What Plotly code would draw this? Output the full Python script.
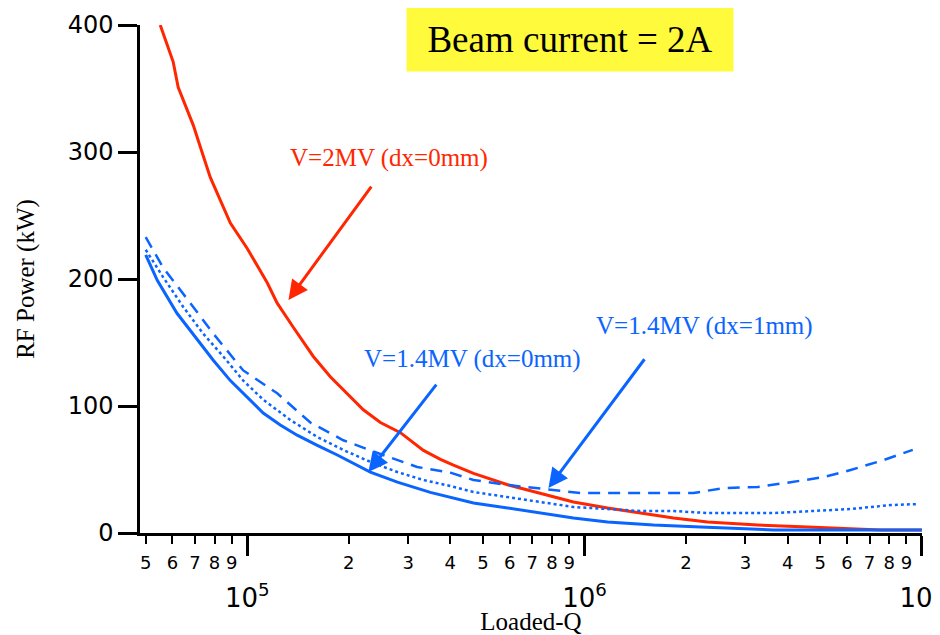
import numpy as np
import plotly.graph_objects as go

# ---- data ----
q_red = [55200, 60300, 62400, 69200, 72600, 77700, 89100, 100000, 114600, 122700, 136900,
         157000, 176300, 198000, 220900, 248200, 284500, 332900, 373900, 408600, 468600,
         591300, 740000, 927000, 1170000, 1466000, 1836000, 2316000, 3260000, 4589000,
         7557000, 10000000]
p_red = [400, 371, 351, 321, 304, 280, 244, 224, 197, 181, 162,
         139, 123, 110, 97, 87, 79, 65, 58, 53.5, 47,
         38, 31.5, 24.4, 19.7, 15.7, 11.8, 8.7, 6.3, 4.7,
         2.4, 2.4]

q_solid = [50000, 54100, 61900, 71100, 79300, 89100, 100000, 111500, 125300, 140600, 161300,
           184900, 231700, 278700, 349000, 400300, 468600, 591300, 740000, 927000, 1170000,
           1602000, 2208000, 3639000, 10000000]
p_solid = [219, 199, 173, 152, 136, 120, 107, 94.5, 85, 77, 69,
           61.4, 48, 40, 32, 28, 23.6, 19.7, 15.7, 11.8, 8.7,
           6.3, 4.7, 2.4, 2.4]

q_dot = [50000, 56300, 64600, 74000, 84900, 97300, 111500, 134200, 161300, 192600, 231700,
         278700, 332900, 400300, 468600, 591300, 740000, 927000, 1170000, 1466000, 1836000,
         2316000, 3639000, 4589000, 6150000, 8090000, 9800000]
p_dot = [223, 201.5, 178, 157, 139, 120, 105, 89, 75.6, 65.4, 56,
         48, 41.7, 37, 32.3, 28.3, 24.4, 20.5, 18.9, 17.3, 17.3,
         15.7, 15.7, 17.3, 18.9, 22, 22.8]

q_dash = [50000, 56300, 67800, 79300, 97300, 122700, 153800, 192600, 243400, 319000, 400300,
          468600, 591300, 792900, 973000, 1466000, 2104000, 2582000, 3260000, 4083000, 5118000,
          6150000, 7713000, 9400000]
p_dash = [233, 209, 181, 157, 128, 110, 87, 73, 63, 52, 47.5,
          41.7, 37.8, 33.9, 31.5, 31.5, 31.5, 35.4, 36.2, 40, 44,
          49.6, 57.5, 65.4]

major_ticks = [1e5, 1e6, 1e7]
major_text = ["10<sup>5</sup>", "10<sup>6</sup>", "10<sup>7</sup>"]
minor_ticks = [5e4, 6e4, 7e4, 8e4, 9e4] + [d * 1e5 for d in range(2, 10)] + [d * 1e6 for d in range(2, 10)]
minor_text = ["5", "6", "7", "8", "9"] + [str(d) for d in range(2, 10)] + [str(d) for d in range(2, 10)]
y_ticks = [0, 100, 200, 300, 400]

RED = "#FF2600"
BLUE = "#0A64FF"
SERIF = "Liberation Serif"
SANS = "DejaVu Sans"

xrange_log = [4.682, 7.0005]

fig = go.Figure()
fig.add_trace(go.Scatter(x=q_red, y=p_red, mode="lines", line=dict(color=RED, width=3), showlegend=False))
fig.add_trace(go.Scatter(x=q_dash, y=p_dash, mode="lines", line=dict(color=BLUE, width=2.5, dash="12px,8px"), showlegend=False))
fig.add_trace(go.Scatter(x=q_dot, y=p_dot, mode="lines", line=dict(color=BLUE, width=2.5, dash="dot"), showlegend=False))
fig.add_trace(go.Scatter(x=q_solid, y=p_solid, mode="lines", line=dict(color=BLUE, width=3), showlegend=False))
# carrier trace so the minor-digit axis is drawn (invisible)
fig.add_trace(go.Scatter(x=q_solid, y=p_solid, xaxis="x2", yaxis="y", mode="lines",
                         line=dict(width=0), opacity=0, hoverinfo="skip", showlegend=False))

L = np.log10

annotations = [
    # arrows
    dict(x=L(132500), y=183.5, ax=L(235000), ay=274, xref="x", yref="y", axref="x", ayref="y",
         text="", showarrow=True, arrowhead=2, arrowsize=1.3, arrowwidth=3, arrowcolor=RED, standoff=0),
    dict(x=L(228600), y=48, ax=L(366400), ay=118, xref="x", yref="y", axref="x", ayref="y",
         text="", showarrow=True, arrowhead=2, arrowsize=1.3, arrowwidth=3, arrowcolor=BLUE, standoff=0),
    dict(x=L(781600), y=35.4, ax=L(1517000), ay=138, xref="x", yref="y", axref="x", ayref="y",
         text="", showarrow=True, arrowhead=2, arrowsize=1.3, arrowwidth=3, arrowcolor=BLUE, standoff=0),
    # labels
    dict(x=L(264000), y=295, xref="x", yref="y", text="V=2MV (dx=0mm)", showarrow=False,
         font=dict(family=SERIF, size=25, color=RED)),
    dict(x=L(465600), y=137, xref="x", yref="y", text="V=1.4MV (dx=0mm)", showarrow=False,
         font=dict(family=SERIF, size=25, color=BLUE)),
    dict(x=L(2270000), y=163, xref="x", yref="y", text="V=1.4MV (dx=1mm)", showarrow=False,
         font=dict(family=SERIF, size=25, color=BLUE)),
    # title box
    dict(x=0.55, y=0.972, xref="paper", yref="paper", text="Beam current = 2A", showarrow=False,
         font=dict(family=SERIF, size=37, color="black"), bgcolor="#FFFA3C",
         width=326, height=64, borderpad=0, xanchor="center", yanchor="middle"),
]

fig.update_layout(
    width=932, height=627,
    margin=dict(l=132, r=18, t=17, b=102),
    paper_bgcolor="white", plot_bgcolor="white",
    showlegend=False,
    annotations=annotations,
    xaxis=dict(
        type="log", range=xrange_log, showgrid=False, zeroline=False, automargin=False,
        showline=True, linecolor="black", linewidth=2.5,
        ticks="outside", ticklen=20, tickwidth=2.5, tickcolor="black",
        tickvals=major_ticks, ticktext=major_text,
        tickfont=dict(family=SANS, size=26, color="black"),
        ticklabelstandoff=20, ticklabeloverflow="allow",
        title=dict(text="Loaded-Q", font=dict(family=SERIF, size=25, color="black"), standoff=2),
    ),
    xaxis2=dict(
        type="log", range=xrange_log, overlaying="x", anchor="y", side="bottom",
        showgrid=False, zeroline=False, showline=False, automargin=False,
        ticks="outside", ticklen=10, tickwidth=2, tickcolor="black",
        tickvals=minor_ticks, ticktext=minor_text,
        tickfont=dict(family=SANS, size=18, color="black"),
        ticklabelstandoff=3,
    ),
    yaxis=dict(
        range=[0, 400], showgrid=False, zeroline=False, automargin=False,
        showline=True, linecolor="black", linewidth=2.5,
        ticks="outside", ticklen=19, tickwidth=2.5, tickcolor="black",
        tickvals=y_ticks,
        tickfont=dict(family=SANS, size=24, color="black"),
        title=dict(text="RF Power (kW)", font=dict(family=SERIF, size=25, color="black"), standoff=26),
    ),
)

fig.write_html("out.html")
